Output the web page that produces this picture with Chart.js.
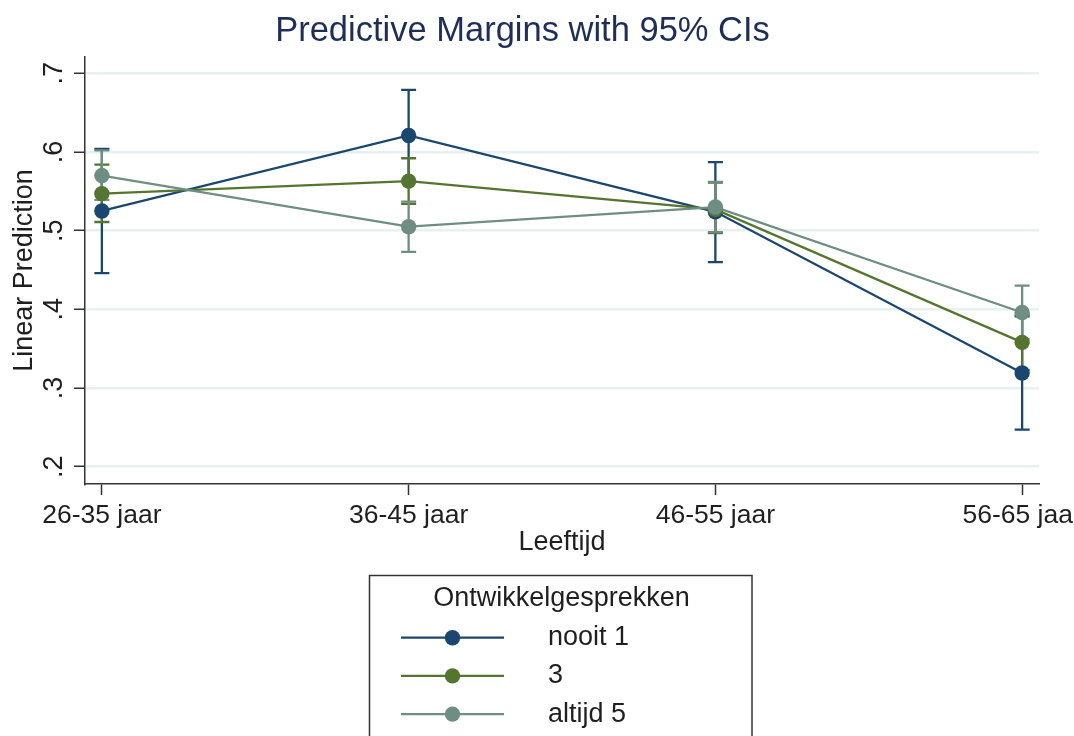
<!DOCTYPE html>
<html>
<head>
<meta charset="utf-8">
<script src="https://cdn.jsdelivr.net/npm/chart.js@4.4.1/dist/chart.umd.min.js"></script>
<style>
  html, body { margin: 0; padding: 0; background: #ffffff; }
  #wrap { width: 1074px; height: 736px; position: relative; }
  canvas { display: block; }
</style>
</head>
<body>
<div id="wrap"><canvas id="chart" width="1074" height="736"></canvas></div>
<script>
// Age groups on the x axis
const categories = ['26-35 jaar', '36-45 jaar', '46-55 jaar', '56-65 jaar'];
// Y axis tick values
const yTickValues = [0.2, 0.3, 0.4, 0.5, 0.6, 0.7];

// Series names (Ontwikkelgesprekken)
const seriesNames = ['nooit 1', '3', 'altijd 5'];

// Predictive margins and 95% confidence bounds per group
const nooitMargin = [0.525, 0.621, 0.524, 0.319];
const nooitLower  = [0.446, 0.563, 0.460, 0.247];
const nooitUpper  = [0.604, 0.679, 0.587, 0.391];

const drieMargin  = [0.547, 0.563, 0.527, 0.358];
const drieLower   = [0.511, 0.534, 0.497, 0.323];
const drieUpper   = [0.584, 0.592, 0.561, 0.393];

const altijdMargin = [0.570, 0.505, 0.530, 0.396];
const altijdLower  = [0.539, 0.473, 0.498, 0.362];
const altijdUpper  = [0.602, 0.537, 0.562, 0.430];

const chartTitle = 'Predictive Margins with 95% CIs';
const xTitle = 'Leeftijd';
const yTitle = 'Linear Prediction';
const legendTitle = 'Ontwikkelgesprekken';

const FONT = "'Liberation Sans', Arial, Helvetica, sans-serif";
const TEXT = '#1f1f1f';
const AXIS = '#333333';

const series = [
  { name: seriesNames[0], color: '#1a476f', values: nooitMargin,  lower: nooitLower,  upper: nooitUpper,  order: 3 },
  { name: seriesNames[1], color: '#55752f', values: drieMargin,   lower: drieLower,   upper: drieUpper,   order: 2 },
  { name: seriesNames[2], color: '#6e8e84', values: altijdMargin, lower: altijdLower, upper: altijdUpper, order: 1 }
];

// Confidence interval caps, drawn underneath the connected lines
const ciBars = {
  id: 'ciBars',
  beforeDatasetsDraw(chart) {
    const { ctx, scales: { x, y } } = chart;
    const capHalf = 7.5;
    ctx.save();
    chart.data.datasets.forEach(ds => {
      ctx.strokeStyle = ds.borderColor;
      ctx.lineWidth = 2.3;
      ds.data.forEach((pt, i) => {
        const px = x.getPixelForValue(pt.x);
        const yl = y.getPixelForValue(ds.ciLower[i]);
        const yu = y.getPixelForValue(ds.ciUpper[i]);
        ctx.beginPath();
        ctx.moveTo(px, yl); ctx.lineTo(px, yu);
        ctx.moveTo(px - capHalf, yl); ctx.lineTo(px + capHalf, yl);
        ctx.moveTo(px - capHalf, yu); ctx.lineTo(px + capHalf, yu);
        ctx.stroke();
      });
    });
    ctx.restore();
  }
};

// Graph title
const graphTitle = {
  id: 'graphTitle',
  afterDraw(chart) {
    const ctx = chart.ctx;
    ctx.save();
    ctx.font = `34.5px ${FONT}`;
    ctx.fillStyle = '#1e2d5a';
    ctx.textAlign = 'center';
    ctx.textBaseline = 'middle';
    ctx.fillText(chartTitle, 522.5, 31);
    ctx.restore();
  }
};

// Boxed legend below the plot
const boxLegend = {
  id: 'boxLegend',
  afterDraw(chart) {
    const ctx = chart.ctx;
    ctx.save();
    ctx.strokeStyle = AXIS;
    ctx.lineWidth = 1.5;
    ctx.strokeRect(369.5, 575.5, 382.5, 220);
    ctx.font = `27px ${FONT}`;
    ctx.fillStyle = TEXT;
    ctx.textAlign = 'center';
    ctx.textBaseline = 'middle';
    ctx.fillText(legendTitle, 561.5, 599);
    chart.data.datasets.forEach((ds, i) => {
      const yy = 637.7 + 38.2 * i;
      ctx.strokeStyle = ds.borderColor;
      ctx.lineWidth = 2.3;
      ctx.beginPath();
      ctx.moveTo(401, yy); ctx.lineTo(504, yy);
      ctx.stroke();
      ctx.fillStyle = ds.borderColor;
      ctx.beginPath();
      ctx.arc(452.5, yy, 7.7, 0, Math.PI * 2);
      ctx.fill();
      ctx.fillStyle = TEXT;
      ctx.textAlign = 'left';
      ctx.fillText(ds.label, 548, yy);
    });
    ctx.restore();
  }
};

new Chart(document.getElementById('chart'), {
  type: 'line',
  data: {
    datasets: series.map(s => ({
      label: s.name,
      data: s.values.map((v, i) => ({ x: i, y: v })),
      ciLower: s.lower,
      ciUpper: s.upper,
      borderColor: s.color,
      backgroundColor: s.color,
      pointBackgroundColor: s.color,
      pointBorderColor: s.color,
      pointBorderWidth: 0,
      pointRadius: 7.7,
      pointHoverRadius: 7.7,
      borderWidth: 2.3,
      tension: 0,
      fill: false,
      order: s.order
    }))
  },
  options: {
    responsive: false,
    animation: false,
    events: [],
    layout: { padding: { top: 57, right: 35, bottom: 172, left: 0 } },
    plugins: {
      legend: { display: false },
      title: { display: false },
      tooltip: { enabled: false }
    },
    scales: {
      x: {
        type: 'linear',
        position: 'bottom',
        bounds: 'data',
        min: -0.055,
        max: 3.055,
        afterBuildTicks: s => { s.ticks = categories.map((c, i) => ({ value: i })); },
        afterFit: s => { s.height = 80; s.paddingLeft = 0; s.paddingRight = 0; },
        ticks: {
          callback: v => categories[v],
          autoSkip: false,
          minRotation: 0,
          maxRotation: 0,
          padding: 4.5,
          color: TEXT,
          font: { family: FONT, size: 26.5 }
        },
        grid: {
          display: true,
          drawOnChartArea: false,
          drawTicks: true,
          tickLength: 11,
          tickColor: AXIS,
          tickWidth: 1.5
        },
        border: { display: true, color: AXIS, width: 1.5 },
        title: {
          display: true,
          text: xTitle,
          color: TEXT,
          font: { family: FONT, size: 27 },
          padding: { top: 0, bottom: 5 }
        }
      },
      y: {
        type: 'linear',
        bounds: 'data',
        min: 0.178,
        max: 0.7207,
        afterBuildTicks: s => { s.ticks = yTickValues.map(v => ({ value: v })); },
        afterFit: s => { s.width = 85; s.paddingTop = 0; s.paddingBottom = 0; },
        ticks: {
          callback: v => v.toFixed(1).replace(/^0/, ''),
          minRotation: 90,
          maxRotation: 90,
          crossAlign: 'center',
          padding: 8,
          color: TEXT,
          font: { family: FONT, size: 27 }
        },
        grid: {
          color: '#e8f0f2',
          lineWidth: 2.5,
          drawTicks: true,
          tickLength: 11,
          tickColor: AXIS,
          tickWidth: 1.5
        },
        border: { display: true, color: AXIS, width: 1.5 },
        title: {
          display: true,
          text: yTitle,
          color: TEXT,
          font: { family: FONT, size: 27 },
          padding: { top: 8, bottom: 0 }
        }
      }
    }
  },
  plugins: [ciBars, graphTitle, boxLegend]
});
</script>
</body>
</html>
